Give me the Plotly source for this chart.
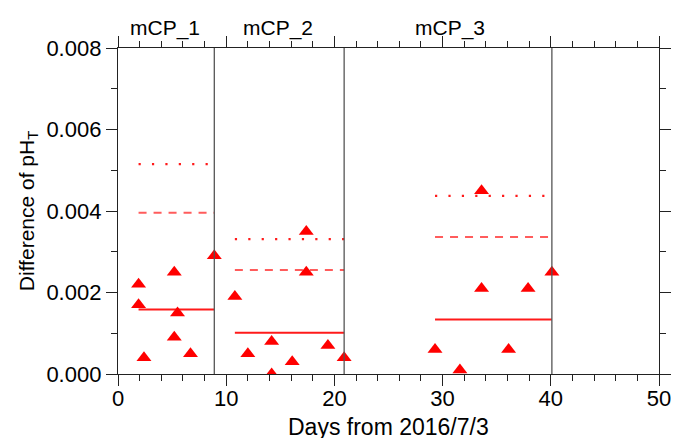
import plotly.graph_objects as go

# Observation days (since 2016/7/3) and pH_T differences
days = [1.9, 1.9, 2.4, 5.2, 5.5, 5.2, 6.7, 8.9,
        10.8, 12.0, 14.2, 14.2, 16.1, 17.4, 17.4, 19.4, 20.9,
        29.3, 31.6, 33.6, 33.6, 36.1, 37.9, 40.1]
dph = [0.0022, 0.0017, 0.0004, 0.0025, 0.0015, 0.0009, 0.0005, 0.0029,
       0.0019, 0.0005, 0.0008, 0.0000, 0.0003, 0.0035, 0.0025, 0.0007, 0.0004,
       0.0006, 0.0001, 0.0045, 0.0021, 0.0006, 0.0021, 0.0025]

# Periods and their summary levels
period_names = ["mCP_1", "mCP_2", "mCP_3"]
period_label_x = [4.3, 14.8, 30.7]
period_start = [1.9, 10.8, 29.3]
period_end = [8.9, 20.9, 40.1]
level_solid = [0.00158, 0.00101, 0.00134]
level_dash = [0.00396, 0.00255, 0.00336]
level_dot = [0.00515, 0.00331, 0.00437]
boundaries = [8.9, 20.9, 40.1]

fig = go.Figure()

for i in range(len(period_names)):
    xs = [period_start[i], period_end[i]]
    fig.add_trace(go.Scatter(x=xs, y=[level_solid[i]] * 2, mode="lines",
                             line=dict(color="#ff1a1a", width=2),
                             showlegend=False, hoverinfo="skip"))
    fig.add_trace(go.Scatter(x=xs, y=[level_dash[i]] * 2, mode="lines",
                             line=dict(color="#ff5c5c", width=2, dash="8px,7px"),
                             showlegend=False, hoverinfo="skip"))
    fig.add_trace(go.Scatter(x=xs, y=[level_dot[i]] * 2, mode="lines",
                             line=dict(color="#ff1a1a", width=2.2, dash="2.2px,11.2px"),
                             showlegend=False, hoverinfo="skip"))

for b in boundaries:
    fig.add_vline(x=b, line=dict(color="#555555", width=1.3))

fig.add_trace(go.Scatter(x=days, y=dph, mode="markers",
                         marker=dict(symbol="triangle-up", size=13, color="#ff0000",
                                     line=dict(width=0)),
                         showlegend=False))

for name, lx in zip(period_names, period_label_x):
    fig.add_annotation(x=lx, y=1.0, xref="x", yref="paper", text=name,
                       showarrow=False, yanchor="bottom", yshift=6,
                       font=dict(size=21, color="black"))

# x-axis title placed just under the tick labels
fig.add_annotation(x=0.5, y=0, xref="paper", yref="paper", text="Days from 2016/7/3",
                   showarrow=False, yanchor="top", yshift=-38,
                   font=dict(size=23, color="black"))

axis_common = dict(
    showline=True, linecolor="#222222", linewidth=1.3, mirror="ticks",
    ticks="outside", tickcolor="#222222", ticklen=11, tickwidth=1.2,
    showgrid=False, zeroline=False, automargin=False,
    tickfont=dict(size=22, color="black"),
)

fig.update_xaxes(range=[0, 50], dtick=10, tick0=0, ticklabelstandoff=-7,
                 minor=dict(dtick=2, ticks="outside", ticklen=6, tickcolor="#222222", tickwidth=1.2),
                 **axis_common)
fig.update_yaxes(range=[0, 0.008], dtick=0.002, tickformat=".3f",
                 minor=dict(dtick=0.001, ticks="outside", ticklen=6, tickcolor="#222222", tickwidth=1.2),
                 title=dict(text="Difference of pH<sub>T</sub>", font=dict(size=21, color="black"), standoff=6),
                 **axis_common)

fig.update_layout(
    width=674, height=438,
    margin=dict(l=118, r=15, t=48, b=64),
    paper_bgcolor="white", plot_bgcolor="white",
    font=dict(family="Liberation Sans, Arial, sans-serif", color="black"),
)

fig.write_html("out.html")
